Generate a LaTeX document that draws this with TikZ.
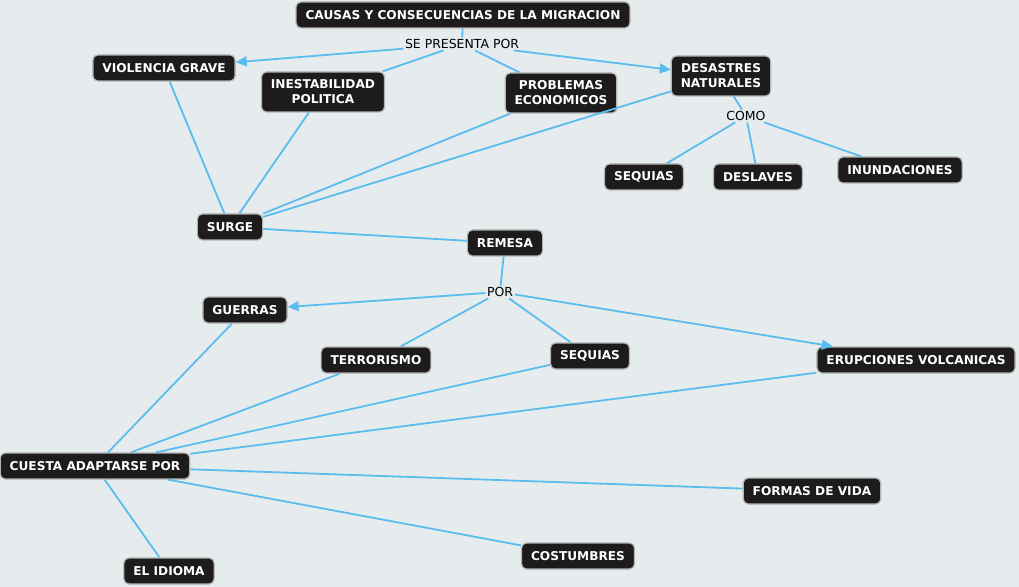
\documentclass[tikz,border=0pt]{standalone}
\usepackage{fontspec}
\setmainfont{DejaVu Sans}
\usetikzlibrary{arrows.meta}
\definecolor{bg}{HTML}{E6EBEE}
\definecolor{boxfill}{HTML}{1E1C1A}
\definecolor{boxline}{HTML}{B4B4B4}
\definecolor{linkc}{HTML}{5BBCEE}
\begin{document}
\begin{tikzpicture}[x=1bp,y=-1bp,
 concept/.style={draw=boxline, line width=1.2bp, fill=boxfill, text=white, rounded corners=5bp,
   font=\bfseries\fontsize{12.2}{15}\selectfont, minimum height=26bp, inner xsep=9.5bp, inner ysep=4bp, align=center},
 twoline/.style={concept, minimum height=40bp},
 lbl/.style={fill=bg, text=black, font=\fontsize{12.5}{14}\selectfont, inner sep=1.5bp},
 conn/.style={draw=linkc, line width=1.8bp},
 arr/.style={conn, -{Triangle[length=11bp,width=10bp]}}]
\fill[bg] (0,0) rectangle (1019,587);
\useasboundingbox (0,0) rectangle (1019,587);

\node[concept] (title) at (463,15) {CAUSAS Y CONSECUENCIAS DE LA MIGRACION};
\node[lbl] (sep) at (462,44) {SE PRESENTA POR};
\node[concept] (viol) at (164,68) {VIOLENCIA GRAVE};
\node[twoline] (ines) at (323,92) {INESTABILIDAD\\POLITICA};
\node[twoline] (prob) at (561,93) {PROBLEMAS\\ECONOMICOS};
\node[twoline] (desa) at (721,76) {DESASTRES\\NATURALES};
\node[lbl] (como) at (746,116) {COMO};
\node[concept] (seq1) at (644,177) {SEQUIAS};
\node[concept] (desl) at (758,177) {DESLAVES};
\node[concept] (inun) at (900,170) {INUNDACIONES};
\node[concept] (surge) at (230,227) {SURGE};
\node[concept] (remesa) at (505,243) {REMESA};
\node[lbl] (por) at (500,292) {POR};
\node[concept] (guer) at (245,310) {GUERRAS};
\node[concept] (terr) at (376,360) {TERRORISMO};
\node[concept] (seq2) at (590,356) {SEQUIAS};
\node[concept] (erup) at (916,360) {ERUPCIONES VOLCANICAS};
\node[concept] (cuesta) at (95,466) {CUESTA ADAPTARSE POR};
\node[concept] (formas) at (812,491) {FORMAS DE VIDA};
\node[concept] (cost) at (578,556) {COSTUMBRES};
\node[concept] (idioma) at (169,571) {EL IDIOMA};

\draw[conn] (title) -- (sep);
\draw[arr] (sep) -- (viol);
\draw[conn] (sep) -- (ines);
\draw[conn] (sep) -- (prob);
\draw[arr] (sep) -- (desa);
\draw[conn] (desa) -- (como);
\draw[conn] (como) -- (seq1);
\draw[conn] (como) -- (desl);
\draw[conn] (como) -- (inun);
\draw[conn] (viol) -- (surge);
\draw[conn] (ines) -- (surge);
\draw[conn] (prob) -- (surge);
\draw[conn] (desa) -- (surge);
\draw[conn] (surge) -- (remesa);
\draw[conn] (remesa) -- (por);
\draw[arr] (por) -- (guer);
\draw[conn] (por) -- (terr);
\draw[conn] (por) -- (seq2);
\draw[arr] (por) -- (erup);
\draw[conn] (guer) -- (cuesta);
\draw[conn] (terr) -- (cuesta);
\draw[conn] (seq2) -- (cuesta);
\draw[conn] (erup) -- (cuesta);
\draw[conn] (cuesta) -- (formas);
\draw[conn] (cuesta) -- (cost);
\draw[conn] (cuesta) -- (idioma);
\end{tikzpicture}
\end{document}
